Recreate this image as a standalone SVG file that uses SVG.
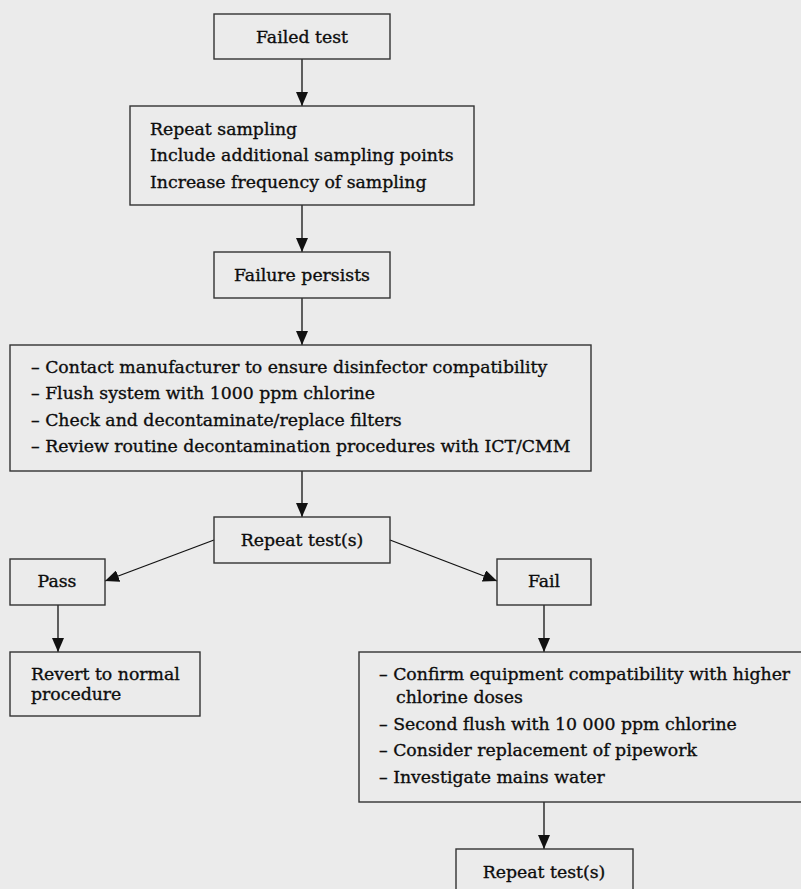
<svg xmlns="http://www.w3.org/2000/svg" width="801" height="889" viewBox="0 0 801 889">
<style>
.box{fill:none;stroke:#333;stroke-width:1.4}
.t{font-family:"DejaVu Serif","Liberation Serif",serif;font-size:17.3px;fill:#0d0d0d;stroke:#0d0d0d;stroke-width:0.35}
.c{text-anchor:middle}
.ln{stroke:#111;stroke-width:1.3;fill:none}
</style>
<defs>
<marker id="ah" viewBox="0 0 14 12" refX="14" refY="6" markerWidth="14" markerHeight="12" markerUnits="userSpaceOnUse" orient="auto">
<path d="M0,0 L14,6 L0,12 Z" fill="#111"/>
</marker>
</defs>
<rect width="801" height="889" fill="#ebebeb"/>
<g id="connectors">
<line class="ln" x1="302" y1="59" x2="302" y2="106" marker-end="url(#ah)"/>
<line class="ln" x1="302" y1="205" x2="302" y2="252" marker-end="url(#ah)"/>
<line class="ln" x1="302" y1="298" x2="302" y2="345" marker-end="url(#ah)"/>
<line class="ln" x1="302" y1="471" x2="302" y2="517" marker-end="url(#ah)"/>
<line class="ln" x1="214" y1="540" x2="105" y2="581" marker-end="url(#ah)"/>
<line class="ln" x1="390" y1="540" x2="497" y2="581" marker-end="url(#ah)"/>
<line class="ln" x1="58" y1="605" x2="58" y2="652" marker-end="url(#ah)"/>
<line class="ln" x1="544" y1="605" x2="544" y2="652" marker-end="url(#ah)"/>
<line class="ln" x1="544" y1="802" x2="544" y2="849" marker-end="url(#ah)"/>
</g>
<g id="failed-test">
<rect class="box" x="214" y="14" width="176" height="45"/>
<text class="t c" x="302" y="43">Failed test</text>
</g>
<g id="repeat-sampling">
<rect class="box" x="130" y="106" width="344" height="99"/>
<text class="t" x="150" y="135">Repeat sampling</text>
<text class="t" x="150" y="161">Include additional sampling points</text>
<text class="t" x="150" y="188">Increase frequency of sampling</text>
</g>
<g id="failure-persists">
<rect class="box" x="214" y="252" width="176" height="46"/>
<text class="t c" x="302" y="281">Failure persists</text>
</g>
<g id="actions-1">
<rect class="box" x="10" y="345" width="581" height="126"/>
<text class="t" x="31" y="373">– Contact manufacturer to ensure disinfector compatibility</text>
<text class="t" x="31" y="399">– Flush system with 1000 ppm chlorine</text>
<text class="t" x="31" y="426">– Check and decontaminate/replace filters</text>
<text class="t" x="31" y="452">– Review routine decontamination procedures with ICT/CMM</text>
</g>
<g id="repeat-test-1">
<rect class="box" x="214" y="517" width="176" height="46"/>
<text class="t c" x="302" y="546">Repeat test(s)</text>
</g>
<g id="pass">
<rect class="box" x="10" y="559" width="95" height="46"/>
<text class="t c" x="57" y="587">Pass</text>
</g>
<g id="fail">
<rect class="box" x="497" y="559" width="94" height="46"/>
<text class="t c" x="544" y="587">Fail</text>
</g>
<g id="revert">
<rect class="box" x="10" y="652" width="190" height="64"/>
<text class="t" x="31" y="680">Revert to normal</text>
<text class="t" x="31" y="700">procedure</text>
</g>
<g id="actions-2">
<rect class="box" x="359" y="652" width="446" height="150"/>
<text class="t" x="379" y="680">– Confirm equipment compatibility with higher</text>
<text class="t" x="396" y="703">chlorine doses</text>
<text class="t" x="379" y="730">– Second flush with 10 000 ppm chlorine</text>
<text class="t" x="379" y="756">– Consider replacement of pipework</text>
<text class="t" x="379" y="783">– Investigate mains water</text>
</g>
<g id="repeat-test-2">
<rect class="box" x="456" y="849" width="177" height="50"/>
<text class="t c" x="544" y="878">Repeat test(s)</text>
</g>
</svg>
